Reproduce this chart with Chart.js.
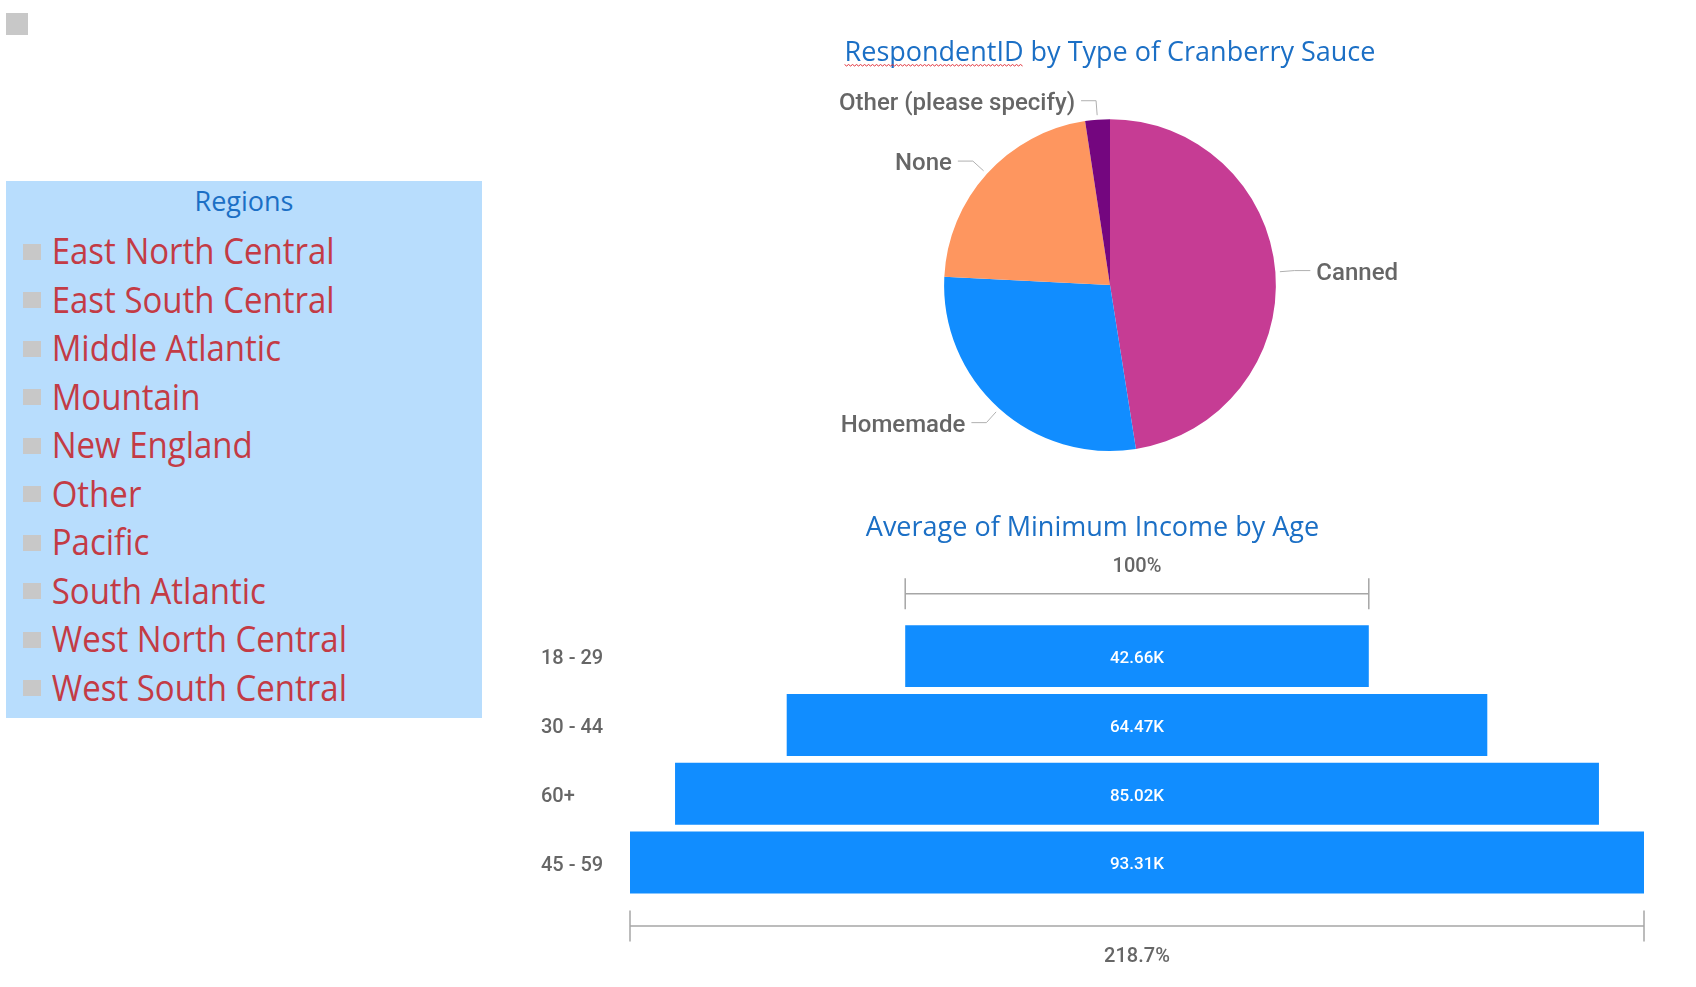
<!DOCTYPE html>
<html>
<head>
<meta charset="utf-8">
<script src="https://cdn.jsdelivr.net/npm/chart.js@4.4.1/dist/chart.umd.min.js"></script>
<style>
  html, body { margin:0; padding:0; background:#fff; width:1696px; height:987px; overflow:hidden; }
  body { position:relative; font-family:"Open Sans", "Noto Sans", sans-serif; }
  #icon { position:absolute; left:6px; top:13px; width:22px; height:22px; background:#c8c8c8; }
  #slicer { position:absolute; left:6px; top:180.7px; width:476px; height:537px; background:#b8ddfd; }
  #slicer .head { position:absolute; left:0; top:1px; width:100%; text-align:center; color:#1b6fc5; font-size:27px; line-height:38px; }
  #slicer .items { position:absolute; left:0; top:46.8px; width:100%; }
  #slicer .item { position:relative; height:48.5px; line-height:48.5px; font-size:33px; color:#c33b45; padding-left:45.7px; white-space:nowrap; }
  #slicer .item .txt { display:inline-block; transform:scale(1, 1.09); transform-origin:0 50%; }
  #slicer .item .box { position:absolute; left:17px; top:16.1px; width:18px; height:16px; background:#c8c8c8; }
  #pie { position:absolute; left:780px; top:0px; }
  #funnel { position:absolute; left:531px; top:470px; }
</style>
</head>
<body>
<div id="icon"></div>
<div id="slicer"><div class="head">Regions</div><div class="items" id="items"></div></div>
<canvas id="pie" width="660" height="470"></canvas>
<canvas id="funnel" width="1165" height="517"></canvas>
<script>
// ---- data ----
const regionNames = ['East North Central','East South Central','Middle Atlantic','Mountain','New England','Other','Pacific','South Atlantic','West North Central','West South Central'];

const sauceTypes = ['Canned','Homemade','None','Other (please specify)'];
const sauceRespondents = [475, 283, 218, 24];

const ageGroups = ['18 - 29','30 - 44','60+','45 - 59'];
const avgMinIncomeK = [42.66, 64.47, 85.02, 93.31];

// ---- slicer (HTML list) ----
const itemsEl = document.getElementById('items');
regionNames.forEach(n => {
  const d = document.createElement('div');
  d.className = 'item';
  const b = document.createElement('span'); b.className = 'box';
  const t = document.createElement('span'); t.className = 'txt'; t.textContent = n;
  d.appendChild(b); d.appendChild(t);
  itemsEl.appendChild(d);
});

const TITLE_FAMILY = '"Open Sans", "Noto Sans", sans-serif';
const TITLE_FONT = {family:TITLE_FAMILY, size:27, lineHeight:1.2, weight:'normal'};

function draw() {
  Chart.defaults.animation = false;
  Chart.defaults.plugins.tooltip.enabled = false;
  Chart.defaults.plugins.legend.display = false;

  // ---- pie ----
  const pieLabelPlugin = {
    id:'pieLabels',
    afterDatasetsDraw(chart){
      const ctx = chart.ctx;
      const meta = chart.getDatasetMeta(0);
      ctx.save();
      ctx.font = '500 24px Roboto';
      ctx.fillStyle = '#666666';
      ctx.strokeStyle = '#b0b0b0';
      ctx.lineWidth = 1;
      ctx.textBaseline = 'middle';
      meta.data.forEach((arc, i) => {
        const p = arc.getProps(['x','y','startAngle','endAngle','outerRadius'], true);
        const mid = (p.startAngle + p.endAngle) / 2;
        const c = Math.cos(mid), s = Math.sin(mid);
        const r0 = p.outerRadius + 4.5, r1 = p.outerRadius + 19;
        const x0 = p.x + c*r0, y0 = p.y + s*r0;
        const x1 = p.x + c*r1, y1 = p.y + s*r1;
        const right = c >= 0;
        const x2 = x1 + (right ? 16 : -15);
        ctx.beginPath(); ctx.moveTo(x0,y0); ctx.lineTo(x1,y1); ctx.lineTo(x2,y1); ctx.stroke();
        ctx.textAlign = right ? 'left' : 'right';
        ctx.fillText(chart.data.labels[i], x2 + (right ? 6 : -6), y1 + 3);
      });
      ctx.restore();
    },
    afterDraw(chart){
      // spell-check squiggle under "RespondentID"
      const tb = chart.titleBlock;
      const o = chart.options.plugins.title;
      const ctx = chart.ctx;
      ctx.save();
      ctx.font = TITLE_FONT.size + 'px ' + TITLE_FAMILY;
      const full = ctx.measureText(o.text).width;
      const w = ctx.measureText('RespondentID').width;
      const cx = (tb.left + tb.right) / 2;
      const x0 = cx - full/2;
      const yMid = tb.top + o.padding.top + TITLE_FONT.size*TITLE_FONT.lineHeight/2;
      const y = yMid + 11;
      ctx.strokeStyle = '#e0313b';
      ctx.lineWidth = 1;
      ctx.beginPath();
      for (let x = x0, k = 0; x <= x0 + w; x += 2, k++) {
        const yy = y + (k % 2 ? 1.5 : 0);
        if (k === 0) ctx.moveTo(x, yy); else ctx.lineTo(x, yy);
      }
      ctx.stroke();
      ctx.restore();
    }
  };

  new Chart(document.getElementById('pie'), {
    type:'pie',
    data:{
      labels: sauceTypes,
      datasets:[{
        data: sauceRespondents,
        backgroundColor:['#c63c94','#118dff','#fe965f','#74067f'],
        borderWidth:0
      }]
    },
    options:{
      responsive:false,
      layout:{padding:{left:0, right:0, top:0, bottom:19}},
      plugins:{
        title:{display:true, text:'RespondentID by Type of Cranberry Sauce', color:'#1b6fc5',
               font:TITLE_FONT, padding:{top:37.3, bottom:49.5}}
      }
    },
    plugins:[pieLabelPlugin]
  });

  // ---- funnel ----
  const funnelPlugin = {
    id:'funnelDeco',
    afterDatasetsDraw(chart){
      const ctx = chart.ctx;
      const meta = chart.getDatasetMeta(0);
      const ca = chart.chartArea;
      const vals = chart.data.datasets[0].rawValues;
      const yScale = chart.scales.y;
      ctx.save();
      ctx.textBaseline = 'middle';
      // category labels (left-aligned at the axis' left edge)
      ctx.font = '500 20px Roboto';
      ctx.fillStyle = '#666666';
      ctx.textAlign = 'left';
      chart.data.labels.forEach((lab, i) => {
        ctx.fillText(lab, yScale.left, yScale.getPixelForTick(i) + 3);
      });
      // value labels
      ctx.font = '500 17px Roboto';
      ctx.fillStyle = '#ffffff';
      ctx.textAlign = 'center';
      meta.data.forEach((bar, i) => {
        const p = bar.getProps(['x','y','base'], true);
        ctx.fillText(vals[i].toFixed(2) + 'K', (p.x + p.base)/2, p.y + 2.5);
      });
      // brackets
      const first = meta.data[0].getProps(['x','base'], true);
      const last = meta.data[meta.data.length-1].getProps(['x','base'], true);
      ctx.strokeStyle = '#a6a6a6';
      ctx.lineWidth = 1.5;
      const bracket = (a, b, y) => {
        const l = Math.min(a,b), r = Math.max(a,b);
        ctx.beginPath();
        ctx.moveTo(l, y); ctx.lineTo(r, y);
        ctx.moveTo(l, y-15.5); ctx.lineTo(l, y+15.5);
        ctx.moveTo(r, y-15.5); ctx.lineTo(r, y+15.5);
        ctx.stroke();
      };
      bracket(first.x, first.base, ca.top - 28);
      bracket(last.x, last.base, ca.bottom + 29);
      ctx.fillStyle = '#666666';
      ctx.font = '500 20px Roboto';
      ctx.fillText((vals[0]/vals[0]*100).toFixed(0) + '%', (first.x + first.base)/2, ca.top - 54.5);
      ctx.fillText((vals[vals.length-1]/vals[0]*100).toFixed(1) + '%', (last.x + last.base)/2, ca.bottom + 60);
      ctx.restore();
    }
  };

  const maxIncome = Math.max(...avgMinIncomeK);
  new Chart(document.getElementById('funnel'), {
    type:'bar',
    data:{
      labels: ageGroups,
      datasets:[{
        data: avgMinIncomeK.map(v => [-v/2, v/2]),
        rawValues: avgMinIncomeK,
        backgroundColor:'#118dff',
        borderWidth:0,
        barPercentage:0.9,
        categoryPercentage:1
      }]
    },
    options:{
      responsive:false,
      indexAxis:'y',
      layout:{padding:{left:10, right:52, top:0, bottom:90}},
      scales:{
        x:{display:false, min:-maxIncome/2, max:maxIncome/2},
        y:{
          grid:{display:false}, border:{display:false},
          ticks:{display:false},
          afterFit(s){ s.width = 89; }
        }
      },
      plugins:{
        title:{display:true, text:'Average of Minimum Income by Age', color:'#1b6fc5',
               font:TITLE_FONT, padding:{top:41.8, bottom:77.5}}
      }
    },
    plugins:[funnelPlugin]
  });
}

Promise.all([
  document.fonts.load('27px "Open Sans"'),
  document.fonts.load('500 24px Roboto'),
  document.fonts.load('500 17px Roboto')
]).catch(() => {}).then(draw);
</script>
</body>
</html>
